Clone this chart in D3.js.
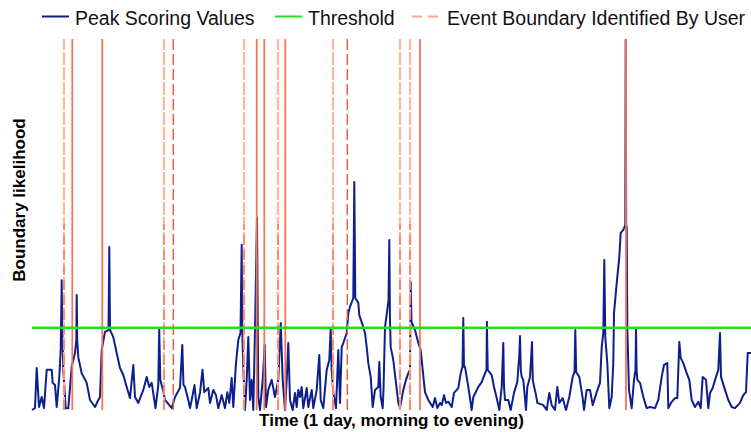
<!DOCTYPE html>
<html>
<head>
<meta charset="utf-8">
<script src="https://cdn.jsdelivr.net/npm/d3@7"></script>
<style>
body{margin:0;background:#fff;}
svg{display:block;font-family:"Liberation Sans",Arial,sans-serif;}
</style>
</head>
<body>
<div id="chart"></div>
<script>

// peak scoring curve: sample index over the day, score 0..1
const times = [
    0, 3, 4.7, 7, 9.7, 12, 14.7, 19.7, 20.7, 23,
    24.7, 27.3, 28.7, 29.2, 29.7, 30.3, 31.3, 33.7, 36.3, 39.7,
    43, 44.3, 44.7, 45.2, 46.3, 49.7, 54.7, 58, 63, 66.3,
    68, 69.7, 73, 76.5, 77.3, 78, 81.3, 84.7, 88, 91.3,
    94.7, 98, 101.3, 103, 106.3, 111.3, 114.7, 117.3, 119.7, 123.5,
    126.3, 127.2, 128.3, 131, 133, 139.7, 143, 148, 150.3, 151.5,
    153, 156.3, 158, 159.7, 162.5, 164.7, 168, 170.5, 172.3, 176.3,
    178, 181.3, 184, 186.3, 189.7, 193, 195.3, 197.3, 199.7, 201.3,
    204, 206.3, 208.5, 209.7, 210.5, 211.3, 213, 214.7, 216.3, 218,
    219.7, 221.3, 223, 225, 225.8, 226.3, 228, 230.7, 232.7, 234,
    236.3, 239.7, 243, 246.3, 248.7, 250.7, 253, 254.7, 256.3, 258,
    260.7, 263, 264.7, 266.3, 268, 269.7, 271.3, 274.7, 276.3, 279.7,
    281.3, 284.7, 287.3, 288.7, 291.3, 294.7, 297.3, 298.7, 299.7, 301.3,
    304, 306.3, 308, 309.7, 311.3, 314.7, 316.3, 318, 321.3, 322.3,
    323.3, 326.3, 327.3, 330.7, 333, 334.7, 336.3, 338.7, 340.7, 343,
    346.3, 347.3, 348.7, 350.7, 351.5, 353, 355.3, 356.5, 357.3, 358,
    358.7, 361.3, 364, 366.3, 368, 371.3, 374, 376.3, 378, 378.7,
    379.5, 383, 386.3, 388.7, 390.7, 393, 396.3, 400.7, 403, 405.3,
    408, 409.7, 412, 414, 416.3, 419.7, 422, 426.3, 428.7, 430.5,
    431.3, 432, 433, 436.3, 439.7, 441.3, 446.3, 449.7, 452.3, 454.5,
    454.9, 455.7, 459.7, 462, 464.7, 467.3, 469.7, 471.3, 472, 473,
    476.3, 478.7, 482, 485.3, 487.3, 488, 488.8, 489.7, 491.3, 494,
    495.3, 498, 500, 500.8, 501.3, 504, 505.3, 511.3, 514.7, 517.3,
    519.7, 523, 525.3, 527.3, 530.7, 534, 537.3, 540.7, 542.5, 543.3,
    544.2, 547.3, 550.7, 552, 554.7, 558, 560.7, 564.7, 568, 569.7,
    571.3, 572.3, 573.3, 575.3, 577.3, 579.7, 581.3, 582, 584.7, 587.3,
    588.7, 591.3, 593.3, 593.7, 594.2, 594.7, 595.3, 597, 599.7, 602,
    603.5, 604, 604.6, 605.3, 608, 611.3, 614.7, 618, 623, 626.3,
    629.7, 632, 635.3, 636.3, 639.7, 643, 645.3, 647.3, 648.7, 651.3,
    654.7, 657.3, 659.7, 663, 666.3, 668.7, 670.7, 674, 676.3, 678,
    680.7, 684, 686.3, 688, 689, 693, 696.3, 699.7, 703, 708,
    711.3, 714, 715.7, 719
];
const scores = [
    0, .005, .113, .008, .035, .005, .108, .108, .073, .067,
    .008, .089, .161, .250, .349, .215, .108, .005, .005, .116,
    .153, .188, .309, .188, .142, .099, .073, .027, .008, .027,
    .035, .161, .210, .215, .438, .215, .196, .153, .113, .094,
    .062, .032, .121, .035, .019, .054, .089, .062, .073, .005,
    .067, .220, .081, .054, .027, .005, .035, .059, .175, .067,
    .062, .027, .005, .027, .067, .005, .046, .108, .048, .059,
    .019, .054, .040, .005, .040, .005, .048, .019, .086, .008,
    .126, .188, .207, .444, .188, .116, 0, .081, .196, .027,
    .081, 0, .215, .516, .215, .035, 0, .081, .175, .008,
    .054, .081, .035, .081, .234, .081, 0, .081, .180, .027,
    0, .046, .008, .054, .035, .062, .005, .059, .008, .054,
    .005, .054, .148, .027, .005, .108, .134, .220, .108, .046,
    .005, .161, .019, .169, .180, .207, .261, .277, .301, .613,
    .301, .288, .255, .228, .207, .169, .126, .089, .008, .054,
    .062, .129, .035, .005, .054, .223, .269, .296, .457, .242,
    .169, .134, .073, .019, .005, .054, .081, .099, .108, .344,
    .237, .215, .180, .161, .108, .048, .027, .008, .032, .005,
    .019, .013, .040, .019, .022, .008, .046, .059, .099, .116,
    .247, .116, .116, .062, 0, .035, .062, .075, .094, .108,
    .237, .108, .094, .062, .032, 0, .062, .180, .062, .027,
    .027, 0, .046, .075, .148, .199, .108, .089, .081, 0,
    .062, .089, .183, .081, .073, .040, .019, .013, 0, .046,
    .013, 0, .062, .019, .032, 0, .035, .089, .102, .215,
    .102, .089, .032, 0, .054, .054, .013, .048, .073, .169,
    .207, .403, .196, .126, .005, .035, .126, .261, .341, .411,
    .476, .484, .497, .995, .497, .492, .223, .054, .005, .081,
    .108, .220, .108, .081, .073, .035, .005, .008, .005, .027,
    .089, .121, .126, .005, .022, .032, .032, .183, .140, .126,
    .099, .081, .027, .008, .022, .005, .089, .081, .005, .046,
    .059, .089, .108, .207, .089, .054, .027, .008, .005, .019,
    .040, .048, .153, .153
];
const threshold = 0.221;

// boundaries marked by users, and how many users agreed on each
const boundaryTimes = [32, 40.3, 70.3, 132, 141.3, 212, 224.7, 232.3, 246, 253.3, 301, 315.3, 368, 378, 388, 594];
const boundaryUsers = [2, 3, 3, 2, 1, 2, 3, 3, 2, 3, 2, 1, 2, 2, 3, 3];

const timeDomain = [0, 719];
const legendLabels = ['Peak Scoring Values', 'Threshold', 'Event Boundary Identified By User'];
const labelX = 'Time (1 day, morning to evening)';
const labelY = 'Boundary likelihood';

const width = 751, height = 432;
const margin = {top: 38, right: 0, bottom: 22, left: 32};

const boundaryStyle = {
    1: {stroke: '#f4562f', width: 1.4, dash: '11,4'},
    2: {stroke: '#fdb6a2', width: 2.2, dash: '13,2'},
    3: {stroke: '#f87455', width: 1.8, dash: null}
};

const svg = d3.select('#chart').append('svg')
    .attr('width', width).attr('height', height);

const x = d3.scaleLinear(timeDomain, [margin.left, width - margin.right]);
const y = d3.scaleLinear([0, 1], [height - margin.bottom, margin.top]);

const series = d3.zip(times, scores);
const boundaries = d3.zip(boundaryTimes, boundaryUsers);

svg.append('path')
    .datum(series)
    .attr('fill', 'none')
    .attr('stroke', '#0d1f8c')
    .attr('stroke-width', 2)
    .attr('stroke-linejoin', 'round')
    .attr('d', d3.line().x(d=>x(d[0])).y(d=>y(d[1])));

const bounds = svg.append('g');
bounds.selectAll('line.full')
    .data(boundaries)
    .join('line')
    .classed('full', true)
    .attr('x1', d=>x(d[0])).attr('x2', d=>x(d[0]))
    .attr('y1', y(0)).attr('y2', y(0.997))
    .attr('stroke', d=>boundaryStyle[d[1]].stroke)
    .attr('stroke-width', d=>boundaryStyle[d[1]].width)
    .attr('stroke-dasharray', d=>boundaryStyle[d[1]].dash);

// second user's shorter dashed mark over the light lines
bounds.selectAll('line.part')
    .data(boundaries.filter(d=>d[1] == 2))
    .join('line')
    .classed('part', true)
    .attr('x1', d=>x(d[0])).attr('x2', d=>x(d[0]))
    .attr('y1', y(0)).attr('y2', y(0.5))
    .attr('stroke', '#f4562f')
    .attr('stroke-opacity', 0.8)
    .attr('stroke-width', 1.1)
    .attr('stroke-dasharray', '10,5');

svg.append('line')
    .attr('x1', x(timeDomain[0])).attr('x2', x(timeDomain[1]))
    .attr('y1', y(threshold)).attr('y2', y(threshold))
    .attr('stroke', '#1ee01e')
    .attr('stroke-width', 2.5);

// legend
const legend = svg.append('g').style('font-size', '19.5px');
const legendItems = [
    {x: 42, text: 75, stroke: '#0d1f8c', dash: null},
    {x: 275, text: 308, stroke: '#1ee01e', dash: null},
    {x: 412, text: 447, stroke: '#ffa68c', dash: '10,6'}
];
legendItems.forEach((d, i)=>{
    legend.append('line')
        .attr('x1', d.x).attr('x2', d.x + 27)
        .attr('y1', 16.5).attr('y2', 16.5)
        .attr('stroke', d.stroke).attr('stroke-width', 2)
        .attr('stroke-dasharray', d.dash);
    legend.append('text')
        .attr('x', d.text).attr('y', 25)
        .attr('fill', '#111')
        .text(legendLabels[i]);
});

svg.append('text')
    .attr('x', (margin.left + width) / 2).attr('y', 426)
    .attr('text-anchor', 'middle')
    .style('font-size', '17px').style('font-weight', 'bold')
    .text(labelX);

svg.append('text')
    .attr('transform', 'translate(25,200)rotate(-90)')
    .attr('text-anchor', 'middle')
    .style('font-size', '17px').style('font-weight', 'bold')
    .text(labelY);

</script>
</body>
</html>
